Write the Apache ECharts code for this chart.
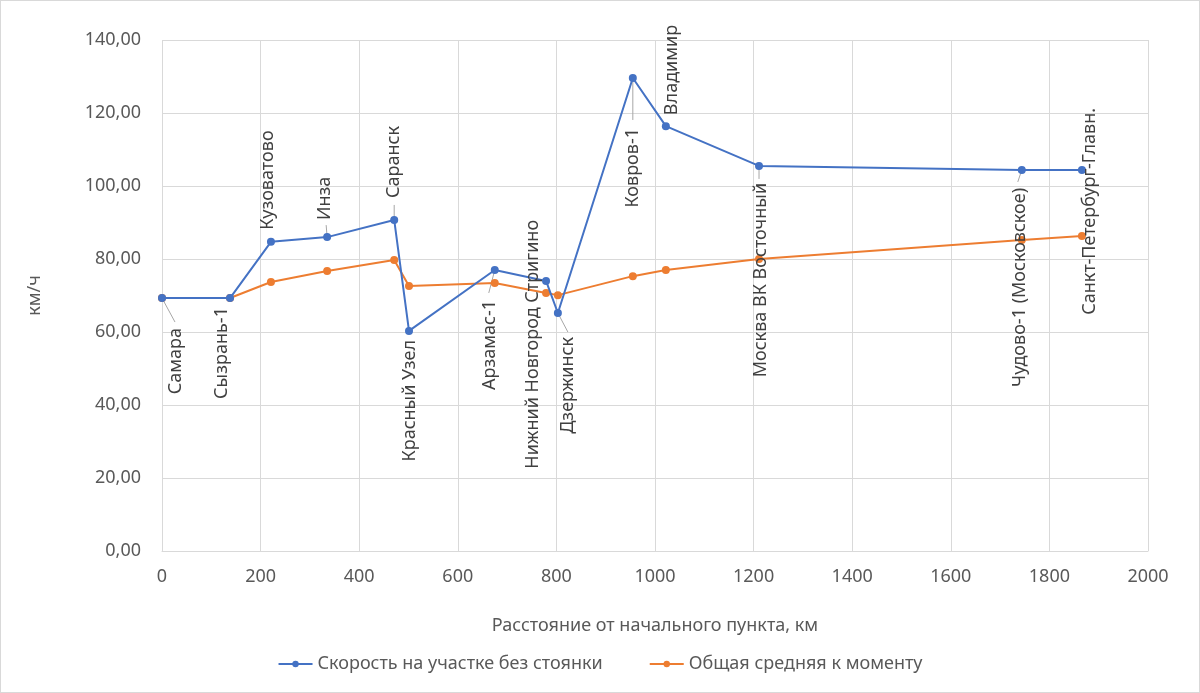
<!DOCTYPE html>
<html>
<head>
<meta charset="utf-8">
<script src="https://cdn.jsdelivr.net/npm/echarts@6/dist/echarts.min.js"></script>
<style>
html,body{margin:0;padding:0;background:#fff;}
#c{position:absolute;left:0;top:0;width:1198px;height:691px;border:1px solid #d9d9d9;}
</style>
</head>
<body>
<div id="c"></div>
<script>
// ---- data ----
const stations = ["Самара","Сызрань-1","Кузоватово","Инза","Саранск","Красный Узел","Арзамас-1","Нижний Новгород Стригино","Дзержинск","Ковров-1","Владимир","Москва ВК Восточный","Чудово-1 (Московское)","Санкт-Петербург-Главн."];
const distanceKm = [0,138,221,335,471,501,675,779,803,955,1022,1211,1744,1866];
const segmentSpeed = [69.3,69.3,84.7,86.0,90.7,60.3,77.0,74.0,65.2,129.6,116.4,105.5,104.4,104.4];
const averageSpeed = [69.3,69.3,73.7,76.7,79.7,72.6,73.4,70.7,70.1,75.3,77.0,80.0,85.2,86.3];
const seriesNames = ["Скорость на участке без стоянки","Общая средняя к моменту"];

// ---- label layout (screen pixel offsets from the point; not data) ----
const labelLayoutCfg = [
  {side:'below', off:[14,30], lead:[13,24]},
  {side:'below', off:[-8,9]},
  {side:'above', off:[-3,-12]},
  {side:'above', off:[-2,-17], lead:[-1,-12]},
  {side:'above', off:[0,-22], lead:[0,-15]},
  {side:'below', off:[1,9]},
  {side:'below', off:[-5,30], lead:[-6,23]},
  {side:'below', off:[-13,-61]},
  {side:'below', off:[10,24], lead:[10,19]},
  {side:'below', off:[0,50], lead:[0,42]},
  {side:'above', off:[6,-11]},
  {side:'below', off:[2,17], lead:[0,13]},
  {side:'below', off:[-2,18], lead:[-4,12]},
  {side:'below', off:[8,-62]}
];

const FONT = "'Noto Sans', 'Open Sans', sans-serif";
const FS = 18;
const fmt = v => v.toFixed(2).replace('.', ',');

const blueData = distanceKm.map((d,i) => {
  const c = labelLayoutCfg[i];
  return {
    value:[d, segmentSpeed[i]],
    name: stations[i],
    label:{
      show:true,
      formatter: stations[i],
      position:'inside',
      rotate:90,
      align: c.side === 'above' ? 'left' : 'right',
      verticalAlign:'middle',
      // offset is applied in the rotated frame: [-dy, dx]
      offset:[-c.off[1], c.off[0]],
      color:'#404040',
      fontSize:FS,
      fontFamily:FONT
    }
  };
});
const orangeData = distanceKm.map((d,i) => [d, averageSpeed[i]]);
const leaderData = distanceKm.map((d,i) => [d, segmentSpeed[i], i]).filter(r => labelLayoutCfg[r[2]].lead);

const chart = echarts.init(document.getElementById('c'), null, {renderer:'canvas'});
chart.setOption({
  animation:false,
  textStyle:{fontFamily:FONT},
  grid:{left:161, right:51, top:39, bottom:141, containLabel:false},
  legend:{
    data:seriesNames,
    bottom:14,
    left:'center',
    itemWidth:34,
    itemHeight:8,
    itemGap:46,
    textStyle:{color:'#595959', fontSize:FS, fontFamily:FONT}
  },
  xAxis:{
    type:'value', min:0, max:2000, interval:200,
    name:'Расстояние от начального пункта, км',
    nameLocation:'middle', nameGap:66,
    nameTextStyle:{color:'#595959', fontSize:FS, fontFamily:FONT},
    axisLine:{show:true, lineStyle:{color:'#d9d9d9'}},
    axisTick:{show:false},
    axisLabel:{color:'#595959', fontSize:FS, margin:17, fontFamily:FONT, formatter: v => String(v)},
    splitLine:{show:true, lineStyle:{color:'#d9d9d9'}}
  },
  yAxis:{
    type:'value', min:0, max:140, interval:20,
    name:'км/ч',
    nameLocation:'middle', nameGap:118, nameRotate:90,
    nameTextStyle:{color:'#595959', fontSize:FS, fontFamily:FONT},
    axisLine:{show:false},
    axisTick:{show:false},
    axisLabel:{color:'#595959', fontSize:FS, margin:21, formatter:fmt, fontFamily:FONT},
    splitLine:{show:true, lineStyle:{color:'#d9d9d9'}}
  },
  series:[
    {
      name:'leaders', type:'custom', data:leaderData,
      encode:{x:0, y:1},
      silent:true, z:1,
      renderItem:(params, api) => {
        const p = api.coord([api.value(0), api.value(1)]);
        const v = labelLayoutCfg[api.value(2)].lead;
        return {type:'line', shape:{x1:p[0], y1:p[1], x2:p[0]+v[0], y2:p[1]+v[1]},
                style:{stroke:'#a6a6a6', lineWidth:1}};
      }
    },
    {
      name:seriesNames[0], type:'line', data:blueData,
      symbol:'circle', symbolSize:8,
      lineStyle:{color:'#4472C4', width:2},
      itemStyle:{color:'#4472C4'},
      z:3
    },
    {
      name:seriesNames[1], type:'line', data:orangeData,
      symbol:'circle', symbolSize:8,
      lineStyle:{color:'#ED7D31', width:2},
      itemStyle:{color:'#ED7D31'},
      z:2
    }
  ]
});
</script>
</body>
</html>
